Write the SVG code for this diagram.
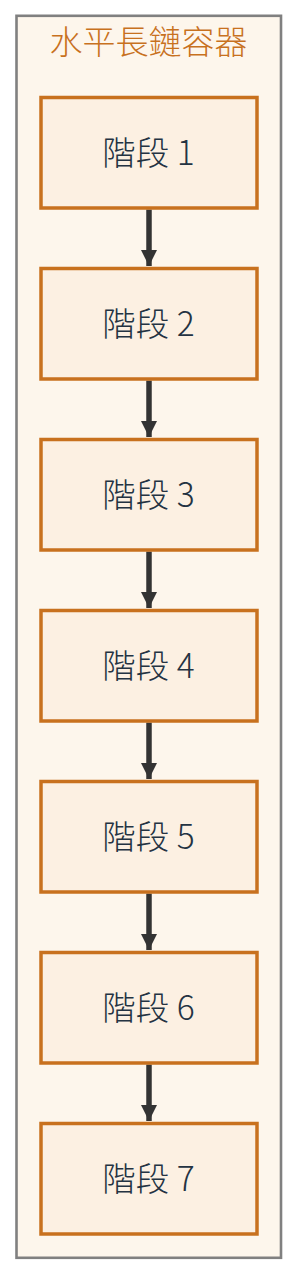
<svg xmlns="http://www.w3.org/2000/svg" width="298" height="1274" viewBox="0 0 298 1274">
<style>
.box{fill:#fcf0e2;stroke:#c8711e;stroke-width:3.5}
.lbl{font-family:"Noto Sans CJK TC","Noto Sans",sans-serif;font-size:33.5px;font-weight:300;fill:#243342;text-anchor:middle}
.ttl{font-family:"Noto Sans CJK TC","Noto Sans",sans-serif;font-size:33px;font-weight:300;fill:#c8711e;text-anchor:middle}
.edge{stroke:#333333;stroke-width:5.5;fill:none}
</style>
<defs>
<marker id="ah" markerUnits="userSpaceOnUse" markerWidth="17" markerHeight="16" refX="16" refY="8" orient="auto">
<path d="M0,0 L16,8 L0,16 Z" fill="#333333"/>
</marker>
</defs>
<g id="container">
<rect x="16.5" y="15.8" width="264.5" height="1242" fill="#fdf6ec" stroke="#808080" stroke-width="2.6"/>
<text class="ttl" x="148.5" y="54">水平長鏈容器</text>
</g>
<g id="connectors">
<line class="edge" x1="149" y1="209.5" x2="149" y2="266" marker-end="url(#ah)"/>
<line class="edge" x1="149" y1="380.5" x2="149" y2="437" marker-end="url(#ah)"/>
<line class="edge" x1="149" y1="551.5" x2="149" y2="608" marker-end="url(#ah)"/>
<line class="edge" x1="149" y1="722.5" x2="149" y2="779" marker-end="url(#ah)"/>
<line class="edge" x1="149" y1="893.5" x2="149" y2="950" marker-end="url(#ah)"/>
<line class="edge" x1="149" y1="1064.5" x2="149" y2="1121" marker-end="url(#ah)"/>
</g>
<g id="s1"><rect class="box" x="41" y="97.5" width="216" height="110.5"/><text class="lbl" x="148.5" y="165">階段 1</text></g>
<g id="s2"><rect class="box" x="41" y="268.5" width="216" height="110.5"/><text class="lbl" x="148.5" y="336">階段 2</text></g>
<g id="s3"><rect class="box" x="41" y="439.5" width="216" height="110.5"/><text class="lbl" x="148.5" y="507">階段 3</text></g>
<g id="s4"><rect class="box" x="41" y="610.5" width="216" height="110.5"/><text class="lbl" x="148.5" y="678">階段 4</text></g>
<g id="s5"><rect class="box" x="41" y="781.5" width="216" height="110.5"/><text class="lbl" x="148.5" y="849">階段 5</text></g>
<g id="s6"><rect class="box" x="41" y="952.5" width="216" height="110.5"/><text class="lbl" x="148.5" y="1020">階段 6</text></g>
<g id="s7"><rect class="box" x="41" y="1123.5" width="216" height="110.5"/><text class="lbl" x="148.5" y="1191">階段 7</text></g>
</svg>
